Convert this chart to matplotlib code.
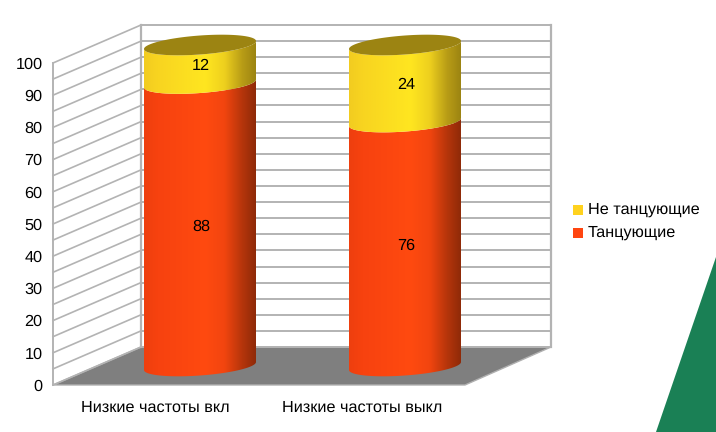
import numpy as np
import matplotlib
matplotlib.use('Agg')
import matplotlib.pyplot as plt
from matplotlib.colors import LinearSegmentedColormap
from matplotlib.patches import Polygon, Rectangle

plt.rcParams['font.family'] = ['Liberation Sans', 'DejaVu Sans']
plt.rcParams['text.hinting'] = 'no_hinting'

# data
categories = ['Низкие частоты вкл', 'Низкие частоты выкл']
dancing = [88, 76]
not_dancing = [12, 24]
y_ticks = list(range(0, 101, 10))
grid_steps = list(range(0, 101, 5))
legend_labels = ['Не танцующие', 'Танцующие']

# layout of the fake 3d box, in pixels of the 716x432 picture
FRONT_LEFT, BACK_LEFT, BACK_RIGHT, FRONT_RIGHT = 53, 141, 551, 465
FRONT_ZERO, BACK_ZERO = 385, 347
UNIT = 3.22
CYL_X = [200, 405]
CAT_X = [155.5, 362.5]
CYL_A, CYL_B, CYL_TILT = 56, 9.5, 4
CYL_BASE = 366
CYL_UNIT = 3.21
FS = 11.7

orange = LinearSegmentedColormap.from_list('orange', [
    (0, '#ee3f0e'), (0.12, '#f7420f'), (0.55, '#ff4a10'), (0.72, '#f2450f'),
    (0.88, '#b5350b'), (1, '#8f2a08')])
yellow = LinearSegmentedColormap.from_list('yellow', [
    (0, '#f2cc20'), (0.12, '#f8d420'), (0.55, '#ffe620'), (0.72, '#eed01e'),
    (0.88, '#b89c16'), (1, '#9c8412')])
TOP_COLOR = '#9c8412'
GRID = '#b3b3b3'

fig = plt.figure(figsize=(7.16, 4.32), dpi=100)
ax = fig.add_axes([0, 0, 1, 1])


def arc(cx, cy, t):
    return np.column_stack([cx + CYL_A * np.cos(t),
                            cy + CYL_B * np.sin(t) - CYL_TILT * np.cos(t)])


def segment(cx, v0, v1, cmap, z):
    # body of the cylinder between two values, shaded left to right
    y0 = CYL_BASE - v0 * CYL_UNIT
    y1 = CYL_BASE - v1 * CYL_UNIT
    t = np.linspace(0, np.pi, 80)
    outline = np.vstack([arc(cx, y0, t), arc(cx, y1, t[::-1])])
    grad = np.linspace(0, 1, 256).reshape(1, -1)
    im = ax.imshow(grad, cmap=cmap, aspect='auto', zorder=z,
                   extent=[cx - CYL_A, cx + CYL_A, y0 + 15, y1 - 15])
    im.set_clip_path(Polygon(outline, closed=True, transform=ax.transData))


# floor
ax.add_patch(Polygon([(FRONT_LEFT, FRONT_ZERO), (BACK_LEFT, BACK_ZERO),
                      (BACK_RIGHT, BACK_ZERO), (FRONT_RIGHT, FRONT_ZERO)],
                     closed=True, fc='#7f7f7f', ec='#b0b0b0', lw=1, zorder=1))

# walls and grid, a line every 5 but a label every 10
for v in grid_steps:
    yf = FRONT_ZERO - v * UNIT
    yb = BACK_ZERO - v * UNIT
    ax.plot([FRONT_LEFT, BACK_LEFT], [yf, yb], color=GRID, lw=1.2, zorder=2)
    ax.plot([BACK_LEFT, BACK_RIGHT], [yb, yb], color=GRID, lw=1.4, zorder=2)
for v in y_ticks:
    ax.text(42.5, FRONT_ZERO - v * UNIT + 1.5, str(v), ha='right', va='center',
            fontsize=FS, color='black')
top_f = FRONT_ZERO - 100 * UNIT
top_b = BACK_ZERO - 100 * UNIT
ax.plot([FRONT_LEFT, FRONT_LEFT], [FRONT_ZERO, top_f], color=GRID, lw=1.4, zorder=2)
ax.plot([BACK_LEFT, BACK_LEFT], [BACK_ZERO, top_b], color=GRID, lw=1.6, zorder=2)
ax.plot([BACK_RIGHT, BACK_RIGHT], [BACK_ZERO, top_b], color=GRID, lw=1.6, zorder=2)

# cylinders
for i, cx in enumerate(CYL_X):
    low, high = dancing[i], not_dancing[i]
    segment(cx, 0, low, orange, 3)
    segment(cx, low, low + high, yellow, 4)
    t = np.linspace(0, 2 * np.pi, 160)
    ax.add_patch(Polygon(arc(cx, CYL_BASE - (low + high) * CYL_UNIT, t),
                         closed=True, fc=TOP_COLOR, ec='none', zorder=5))
    ax.text(cx + 1, CYL_BASE - low / 2 * CYL_UNIT + 1.5, str(low), ha='center',
            va='center', fontsize=FS, color='black', zorder=6)
    ax.text(cx + 1, CYL_BASE - (low + high / 2) * CYL_UNIT + 1.5, str(high), ha='center',
            va='center', fontsize=FS, color='black', zorder=6)
    ax.text(CAT_X[i], 408, categories[i], ha='center', va='center',
            fontsize=FS, color='black')

# legend
for y, c, label in zip([210, 233], ['#ffd21e', '#ff4510'], legend_labels):
    ax.add_patch(Rectangle((573, y - 5), 10, 10, fc=c, ec='none'))
    ax.text(588, y, label, ha='left', va='center', fontsize=FS, color='black')

# green corner of the slide
ax.add_patch(Polygon([(716, 257), (656, 432), (716, 432)], closed=True,
                     fc='#1a8055', ec='none'))

ax.set_xlim(0, 716)
ax.set_ylim(432, 0)
ax.axis('off')
fig.savefig('out.png', dpi=100)
